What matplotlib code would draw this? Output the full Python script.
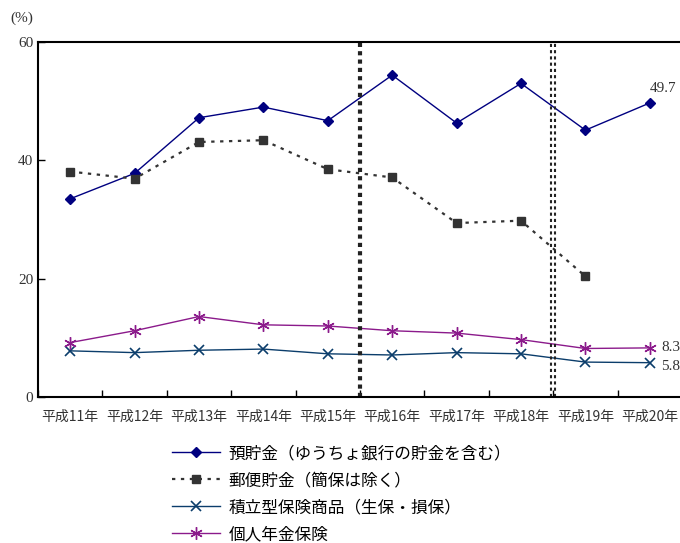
import numpy as np
import matplotlib
matplotlib.use("Agg")
from matplotlib import pyplot as plt

plt.rcParams["font.family"] = ["Noto Sans CJK JP", "DejaVu Sans"]

years = ["平成11年", "平成12年", "平成13年", "平成14年", "平成15年",
         "平成16年", "平成17年", "平成18年", "平成19年", "平成20年"]

deposits = [33.5, 37.8, 47.2, 49.0, 46.7, 54.4, 46.3, 53.0, 45.1, 49.7]
postal = [38.1, 36.9, 43.1, 43.4, 38.5, 37.1, 29.4, 29.8, 20.4, np.nan]
savings_ins = [7.8, 7.5, 7.9, 8.1, 7.3, 7.1, 7.5, 7.3, 5.9, 5.8]
pension_ins = [9.2, 11.2, 13.6, 12.2, 12.0, 11.2, 10.8, 9.7, 8.2, 8.3]

labels = ["預貯金（ゆうちょ銀行の貯金を含む）", "郵便貯金（簡保は除く）",
          "積立型保険商品（生保・損保）", "個人年金保険"]

fig = plt.figure(figsize=(6.8, 5.43), dpi=100)
ax = fig.add_axes([38 / 680, 1 - 397 / 543, 644 / 680, 355 / 543])

x = np.arange(len(years))
ax.plot(x, deposits, color="#000080", lw=1.0, marker="D", ms=5, label=labels[0])
ax.plot(x, postal, color="#333333", lw=1.6, ls=(0, (1.5, 2.5)), marker="s", ms=6,
        label=labels[1])
ax.plot(x, savings_ins, color="#0b3d6b", lw=1.0, marker="x", ms=7, mew=1.2,
        label=labels[2])
ax.plot(x, pension_ins, color="#8b1a8b", lw=1.0, marker=(6, 2, 0), ms=9, mew=1.0,
        label=labels[3])

# period separators
ax.axvline(4.5, color="#222222", lw=3, ls=(0, (1, 1)))
ax.axvline(7.47, color="#222222", lw=1.5, ls=(0, (1.5, 1.5)))
ax.axvline(7.53, color="#222222", lw=1.5, ls=(0, (1.5, 1.5)))

ax.set_xlim(-0.5, 9.5)
ax.set_ylim(0, 60)
ax.set_yticks([0, 20, 40, 60])
ax.set_yticklabels(["0", "20", "40", "60"], family="Liberation Serif", fontsize=11,
                   color="#333333")
ax.set_xticks(np.arange(-0.5, 9.6, 1))
ax.set_xticklabels([])
ax.tick_params(direction="in", length=5, width=1)
for i, yr in enumerate(years):
    ax.text(i, -3.4, yr, ha="center", va="center", fontsize=10, color="#333333")

for s in ["top", "right"]:
    ax.spines[s].set_visible(False)
ax.axhline(60, color="black", lw=1.5, clip_on=False)
ax.spines["left"].set_linewidth(1.5)
ax.spines["bottom"].set_linewidth(1.5)

ax.text(9.0, deposits[-1] + 1.3, "49.7", family="Liberation Serif", fontsize=11,
        color="#333333", ha="left", va="bottom")
ax.text(9.18, pension_ins[-1], "8.3", family="Liberation Serif", fontsize=11,
        color="#333333", ha="left", va="center")
ax.text(9.18, savings_ins[-1] - 0.6, "5.8", family="Liberation Serif", fontsize=11,
        color="#333333", ha="left", va="center")

fig.text(10 / 680, 1 - 18 / 543, "(%)", family="Liberation Serif", fontsize=11,
         color="#333333", va="center")

fig.legend(loc="upper left", bbox_to_anchor=(172 / 680, 1 - 445 / 543),
           frameon=False, fontsize=12, handlelength=2.9, handletextpad=0.5,
           labelspacing=0.6, borderpad=0, borderaxespad=0)

fig.savefig("out.png", dpi=100)
